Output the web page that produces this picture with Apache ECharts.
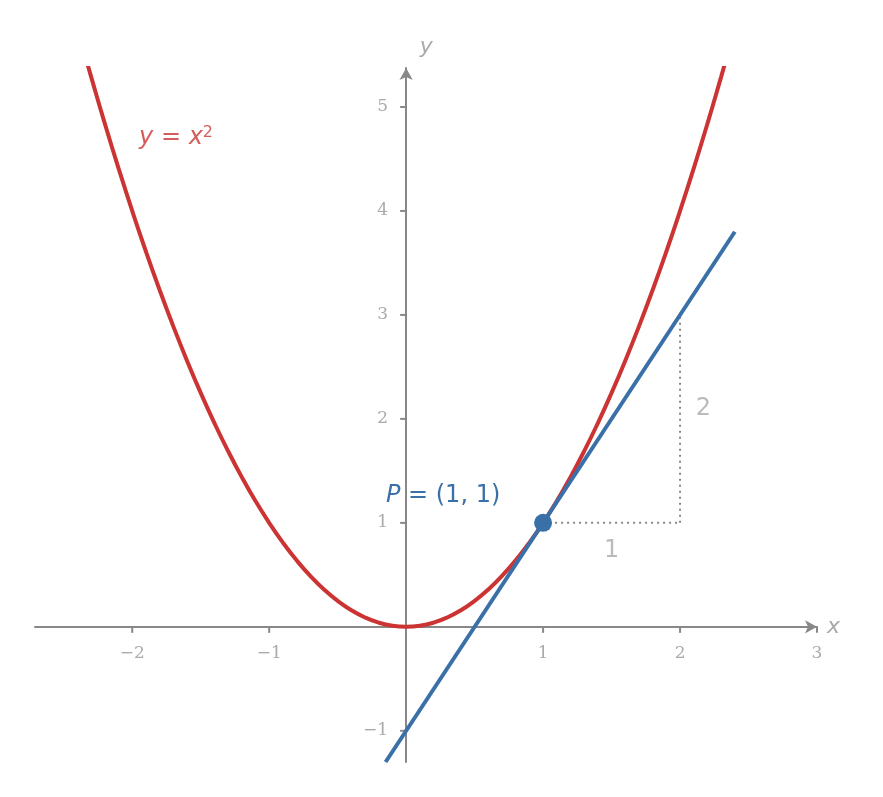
<!DOCTYPE html><html><head><meta charset="utf-8"><script src="https://cdn.jsdelivr.net/npm/echarts@6/dist/echarts.min.js"></script></head><body style="margin:0"><div id="c" style="width:883px;height:797px"></div><script>
const parabolaX=[-2.35,-2.3,-2.2,-2.1,-2,-1.9,-1.8,-1.7,-1.6,-1.5,-1.4,-1.3,-1.2,-1.1,-1,-0.9,-0.8,-0.7,-0.6,-0.5,-0.4,-0.3,-0.2,-0.1,0,0.1,0.2,0.3,0.4,0.5,0.6,0.7,0.8,0.9,1,1.1,1.2,1.3,1.4,1.5,1.6,1.7,1.8,1.9,2,2.1,2.2,2.3,2.35];
const parabolaY=[5.52,5.29,4.84,4.41,4,3.61,3.24,2.89,2.56,2.25,1.96,1.69,1.44,1.21,1,0.81,0.64,0.49,0.36,0.25,0.16,0.09,0.04,0.01,0,0.01,0.04,0.09,0.16,0.25,0.36,0.49,0.64,0.81,1,1.21,1.44,1.69,1.96,2.25,2.56,2.89,3.24,3.61,4,4.41,4.84,5.29,5.52];
const tangentX=[-0.15,2.4];
const tangentY=[-1.3,3.8];
const pointP=[1,1];
const runX=[[1,1],[2,1]];
const riseY=[[2,1],[2,3]];
const xTicks=[-2,-1,1,2,3];
const yTicks=[-1,1,2,3,4,5];
const red='#cc3333',blue='#3a70a8',grey='#888';
const tickFont={color:'#aaa',fontFamily:'DejaVu Serif',fontSize:17};
const fmt=v=>String(v).replace('-','−');
const c=echarts.init(document.getElementById('c'));
c.setOption({animation:false,
grid:{left:35,top:68,width:782,height:694},
xAxis:{type:'value',min:-2.71,max:3,splitLine:{show:false},
 axisLine:{onZero:true,lineStyle:{color:grey,width:2},symbol:['none','arrow'],symbolSize:[10,12]},
 axisTick:{show:false},axisLabel:{show:false},
 name:'x',nameGap:10,nameTextStyle:{color:'#aaa',fontStyle:'italic',fontSize:22,fontFamily:'DejaVu Sans',padding:[28,0,0,0]}},
yAxis:{type:'value',min:-1.3,max:5.375,splitLine:{show:false},
 axisLine:{onZero:true,lineStyle:{color:grey,width:2},symbol:['none','arrow'],symbolSize:[10,12]},
 axisTick:{show:false},axisLabel:{show:false},
 name:'y',nameGap:10,nameTextStyle:{color:'#aaa',fontStyle:'italic',fontSize:22,fontFamily:'DejaVu Sans',padding:[0,0,0,40]}},
series:[
{type:'line',data:parabolaX.map((x,i)=>[x,parabolaY[i]]),smooth:true,showSymbol:false,clip:true,lineStyle:{color:red,width:4},z:3},
{type:'line',data:tangentX.map((x,i)=>[x,tangentY[i]]),showSymbol:false,lineStyle:{color:blue,width:4},z:4},
{type:'line',data:runX,showSymbol:false,lineStyle:{color:grey,width:2,type:[2,4]}},
{type:'line',data:riseY,showSymbol:false,lineStyle:{color:grey,width:2,type:[2,4]}},
{type:'scatter',data:[pointP],symbolSize:18,itemStyle:{color:blue,opacity:1},z:5,
 label:{show:true,position:'top',distance:6,offset:[-100,0],formatter:'{i|P} = (1, 1)',color:blue,fontSize:24,fontFamily:'DejaVu Sans',rich:{i:{fontStyle:'italic',fontSize:24,color:blue,fontFamily:'DejaVu Sans'}}}},
{type:'scatter',symbol:'rect',symbolSize:[2,6],symbolOffset:[0,3],itemStyle:{color:grey,opacity:1},silent:true,
 data:xTicks.map(v=>[v,0]),label:{show:true,position:'bottom',distance:12,formatter:p=>fmt(p.value[0]),...tickFont}},
{type:'scatter',symbol:'rect',symbolSize:[6,2],symbolOffset:[-3,0],itemStyle:{color:grey,opacity:1},silent:true,
 data:yTicks.map(v=>[0,v]),label:{show:true,position:'left',distance:12,formatter:p=>fmt(p.value[1]),...tickFont}},
{type:'scatter',symbolSize:0,silent:true,data:[
 {value:[-1.68,4.7],label:{show:true,formatter:'{i|y} = {i|x}{s|2}',color:red,fontSize:24,fontFamily:'DejaVu Sans',rich:{i:{fontStyle:'italic',fontSize:24,color:red},s:{fontSize:16,color:red,verticalAlign:'top',padding:[0,0,10,0]}}}},
 {value:[1.5,0.73],label:{show:true,formatter:'1',color:'#aaa',fontSize:24,fontFamily:'DejaVu Sans'}},
 {value:[2.17,2.1],label:{show:true,formatter:'2',color:'#aaa',fontSize:24,fontFamily:'DejaVu Sans'}}
]}
]});
</script></body></html>
